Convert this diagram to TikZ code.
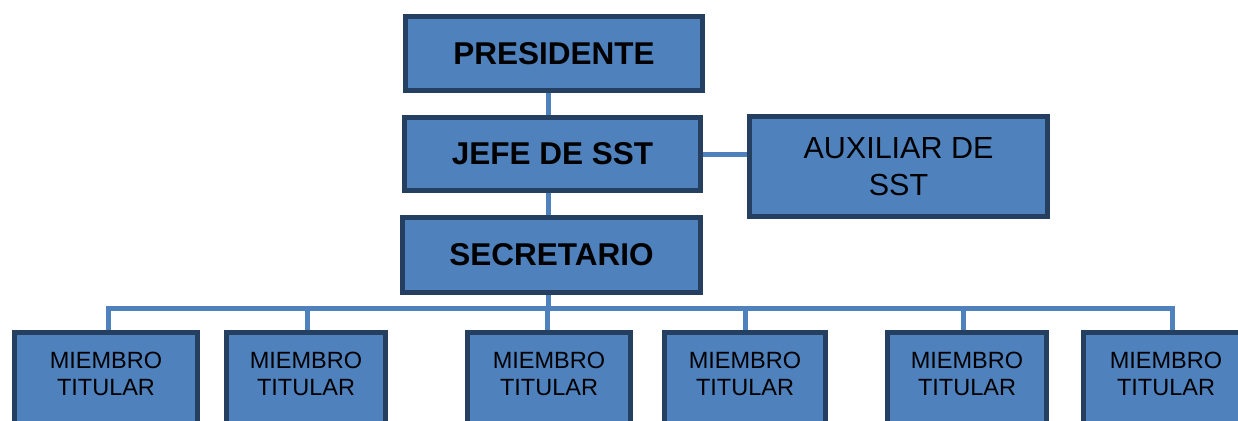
\documentclass[tikz,border=0pt]{standalone}
\usepackage{fontspec}
\setmainfont{Liberation Sans}
\usetikzlibrary{backgrounds}
\definecolor{boxfill}{HTML}{4F81BD}
\definecolor{boxline}{HTML}{243F60}
\definecolor{connline}{HTML}{4F81BD}
\begin{document}
\begin{tikzpicture}[x=1pt,y=-1pt,
  box/.style={draw=boxline,fill=boxfill,line width=5pt,rectangle,inner sep=0pt,outer sep=0pt},
  boldtxt/.style={font=\fontsize{31.5}{36}\selectfont\bfseries},
  auxtxt/.style={font=\fontsize{30.5}{36.5}\selectfont,align=center},
  mtxt/.style={font=\fontsize{23.5}{27.6}\selectfont,align=center,inner sep=0pt},
  conn/.style={draw=connline,line width=5pt}]
\useasboundingbox (0,0) rectangle (1238,420);
\clip (0,0) rectangle (1238,420);
% coordinates for connector lines
\coordinate (spine) at (548,0);
\coordinate (bus) at (0,308);
% top boxes
\node[box,boldtxt,minimum width=297pt,minimum height=74pt] (pres) at (554,53.5) {PRESIDENTE};
\node[box,boldtxt,minimum width=296pt,minimum height=73pt] (jefe) at (552.5,154) {JEFE DE SST};
\node[box,boldtxt,minimum width=298pt,minimum height=75pt] (sec) at (551.5,255) {SECRETARIO};
\node[box,auxtxt,minimum width=298pt,minimum height=100pt] (aux) at (898.5,166.5) {AUXILIAR DE\\SST};
% bottom boxes (extend beyond lower edge)
\tikzset{member/.style={box,anchor=north,minimum height=120pt}}
\node[member,minimum width=183pt] (m1) at (106,332.5) {};
\node[member,minimum width=159pt] (m2) at (306,332.5) {};
\node[member,minimum width=163pt] (m3) at (549,332.5) {};
\node[member,minimum width=161pt] (m4) at (745,332.5) {};
\node[member,minimum width=159pt] (m5) at (967,332.5) {};
\node[member,minimum width=165pt] (m6) at (1166,332.5) {};
% member texts
\foreach \m in {m1,m2,m3,m4,m5,m6}{
  \node[mtxt] (\m t) at ([yshift=-41.5pt]\m.north) {MIEMBRO\\TITULAR};
}
% connectors (behind boxes)
\begin{pgfonlayer}{background}
\draw[conn] (pres.south -| spine) -- (jefe.north -| spine);
\draw[conn] (jefe.east) -- (aux.west |- jefe.east);
\draw[conn] (jefe.south -| spine) -- (sec.north -| spine);
\draw[conn] (sec.south -| spine) -- (bus -| spine);
\draw[conn,line cap=rect] ([xshift=2pt]m1.north) -- ([xshift=2pt]m1.north |- bus) -- ([xshift=6pt]m6.north |- bus) -- ([xshift=6pt]m6.north);
\draw[conn] ([xshift=1pt]m2.north) -- ([xshift=1pt]m2.north |- bus);
\draw[conn] ([xshift=-2pt]m3.north) -- ([xshift=-2pt]m3.north |- bus);
\draw[conn] (m4.north) -- (m4.north |- bus);
\draw[conn] ([xshift=-4pt]m5.north) -- ([xshift=-4pt]m5.north |- bus);
\end{pgfonlayer}
\end{tikzpicture}
\end{document}
